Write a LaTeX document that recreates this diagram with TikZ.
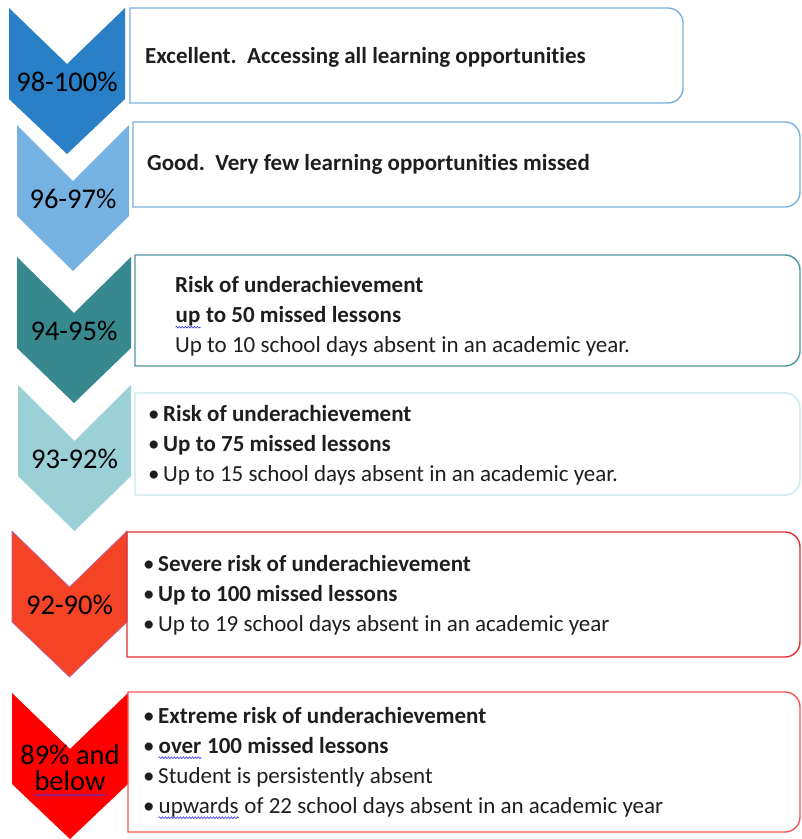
\documentclass[tikz,border=0pt]{standalone}
\usepackage{fontspec}
\setmainfont{Carlito}[Ligatures=NoCommon]
\usetikzlibrary{calc,positioning,decorations.pathmorphing}
\definecolor{chev1}{RGB}{41,128,198}
\definecolor{chev2}{RGB}{117,178,226}
\definecolor{chev3}{RGB}{55,137,143}
\definecolor{chev4}{RGB}{155,208,214}
\definecolor{chev5}{RGB}{245,67,38}
\definecolor{chev6}{RGB}{255,0,0}
\definecolor{edge1}{RGB}{120,175,220}
\definecolor{edge2}{RGB}{120,175,220}
\definecolor{edge3}{RGB}{75,150,155}
\definecolor{edge4}{RGB}{200,230,235}
\definecolor{edge5}{RGB}{228,45,45}
\definecolor{edge6}{RGB}{245,85,85}
\definecolor{spellblue}{RGB}{60,60,230}
\definecolor{plaintext}{RGB}{30,30,30}
\newcommand{\spellmark}[1]{\tikz[baseline=(w.base), x=1cm, y=1cm]{\node[inner sep=0pt, anchor=base] (w) at (0,0) {#1};
	\draw[spellblue, line width=0.6pt, decorate, decoration={snake, amplitude=0.9pt, segment length=3pt}]
		([yshift=-4.5pt]w.base west) -- ([yshift=-4.5pt]w.base east);}}
\newcommand{\bul}{\makebox[15pt][l]{•}}

\begin{document}
\begin{tikzpicture}[x=1pt, y=-1pt,
				chevlabel/.style=	{inner sep=0pt, align=center, text=black, font=\fontsize{28.5}{26}\selectfont},
				boxnode/.style=		{rectangle, inner sep=0pt, outer sep=0pt},
				boxline/.style=		{line width=1.4pt, line cap=rect, rounded corners=15pt},
				boxtext/.style=		{anchor=west, inner sep=0pt, align=left, text=plaintext, font=\fontsize{23}{30}\selectfont}]
	\def\notch{56}
	\def\side{91}
	\def\tip{146}
	\useasboundingbox (0,0) rectangle (802,839);

	% chevrons
	\foreach \n/\xl/\xr/\yt/\dy/\lab in {1/9/125/8/0/98-100\%, 2/17/129/125/0/96-97\%, 3/17/131/257/0/94-95\%,
			4/18/131/385/0/93-92\%, 5/12/127/531/0/92-90\%, 6/12/128/693/4/{89\% and\\\spellmark{below}}} {
		\fill[chev\n] (\xl,\yt) -- ({(\xl+\xr)/2},{\yt+\notch}) -- (\xr,\yt) -- (\xr,{\yt+\side})
			-- ({(\xl+\xr)/2},{\yt+\tip}) -- (\xl,{\yt+\side}) -- cycle;
		\node[chevlabel] (c\n) at ({(\xl+\xr)/2},{\yt+(\notch+\side)/2+\dy}) {\lab};
	}
	\draw[violet!60, line width=0.6pt] (12,531) -- (69.5,587) -- (127,531) -- (127,622) -- (69.5,677) -- (12,622) -- cycle;

	% boxes
	\foreach \n/\bl/\bt/\br/\bb in {1/130/8/683/103, 2/133/122/800/207, 3/135/255/800/366,
			4/135/393/800/495, 5/127/532/800/657, 6/128/692/800/832} {
		\node[boxnode, minimum width={(\br-\bl)*1pt}, minimum height={(\bb-\bt)*1pt}] (b\n) at ({(\bl+\br)/2},{(\bt+\bb)/2}) {};
		\draw[boxline, draw=edge\n] (b\n.north west) -- (b\n.north east) -- (b\n.south east) -- (b\n.south west)
			(b\n.north west) -- (b\n.south west);
	}

	\node[boxtext, right=15pt of b1.west, yshift=-2pt] (t1) {\textbf{Excellent.\ \ Accessing all learning opportunities}};
	\node[boxtext, right=14pt of b2.west] (t2) {\textbf{Good.\ \ Very few learning opportunities missed}};
	\node[boxtext, right=40pt of b3.west, yshift=-6pt] (t3) {\textbf{Risk of underachievement}\\
		\textbf{\spellmark{up} to 50 missed lessons}\\
		Up to 10 school days absent in an academic year.};
	\node[boxtext, right=13pt of b4.west, yshift=-1pt] (t4) {\bul\textbf{Risk of underachievement}\\
		\bul\textbf{Up to 75 missed lessons}\\
		\bul Up to 15 school days absent in an academic year.};
	\node[boxtext, right=16pt of b5.west, yshift=-1pt] (t5) {\bul\textbf{Severe risk of underachievement}\\
		\bul\textbf{Up to 100 missed lessons}\\
		\bul Up to 19 school days absent in an academic year};
	\node[boxtext, right=15pt of b6.west, yshift=-1pt] (t6) {\bul\textbf{Extreme risk of underachievement}\\
		\bul\textbf{\spellmark{over} 100 missed lessons}\\
		\bul Student is persistently absent\\
		\bul\spellmark{upwards} of 22 school days absent in an academic year};
\end{tikzpicture}
\end{document}
